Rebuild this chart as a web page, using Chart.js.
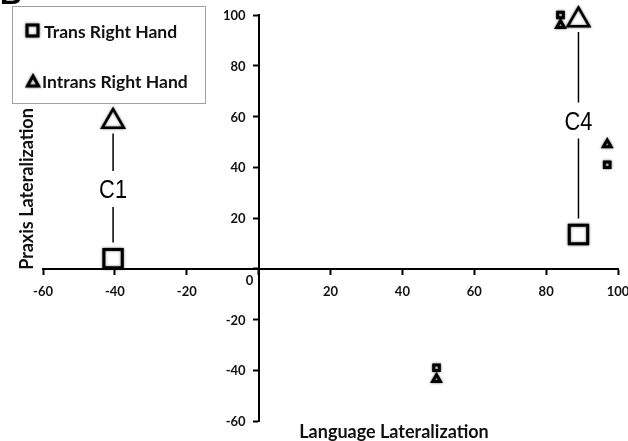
<!DOCTYPE html>
<html>
<head>
<meta charset="utf-8">
<script src="https://cdn.jsdelivr.net/npm/chart.js@4.4.1/dist/chart.umd.min.js"></script>
<style>
  html, body { margin: 0; padding: 0; background: #fff; }
  #wrap { width: 628px; height: 441px; position: relative; }
</style>
</head>
<body>
<div id="wrap"><canvas id="c" width="628" height="441"></canvas></div>
<script>
// Language vs. praxis lateralization, right-handed subjects
const seriesNames = ['Trans Right Hand', 'Intrans Right Hand'];

const transX = [-40.5, 89, 84, 97, 49.5];
const transY = [4, 13.5, 100, 41, -39];
const transSize = [13, 13, 4, 4, 4];

const intransX = [-40.5, 89, 84, 97, 49.5];
const intransY = [58, 98, 96, 49, -43.5];
const intransSize = [12.5, 12.5, 4.5, 4.5, 4.5];

// case labels placed between each case's pair of large markers
const caseLabels = ['C1', 'C4'];
const caseX = [-40.5, 89];
const caseY = [31, 58];
const caseTop = [58, 98];     // triangle (intransitive) value
const caseBottom = [4, 13.5]; // square (transitive) value

const xTicks = [-60, -40, -20, 0, 20, 40, 60, 80, 100];
const yTicks = [-60, -40, -20, 0, 20, 40, 60, 80, 100];

const xTitle = 'Language Lateralization';
const yTitle = 'Praxis Lateralization';

const toPoints = (xs, ys) => xs.map((x, i) => ({ x: x, y: ys[i] }));

const tickFont = { family: 'Lato', size: 13, weight: 'bold' };
const tickFontCss = 'bold 13px Lato';

// soft grey halo around the markers
const markerHalo = {
  id: 'markerHalo',
  beforeDatasetsDraw(chart) {
    const ctx = chart.ctx;
    ctx.save();
    ctx.shadowColor = 'rgba(0,0,0,0.6)';
    ctx.shadowBlur = 2.5;
  },
  afterDatasetsDraw(chart) {
    chart.ctx.restore();
  }
};

// y tick labels (left of the crossing axis), zero label, titles, case labels, legend
const overlay = {
  id: 'overlay',
  afterDraw(chart) {
    const ctx = chart.ctx;
    const xs = chart.scales.x, ys = chart.scales.y;
    const axisX = xs.getPixelForValue(0);
    const axisY = ys.getPixelForValue(0);
    ctx.save();

    // panel letter
    ctx.fillStyle = '#000';
    ctx.font = 'bold 30px "Liberation Sans"';
    ctx.textAlign = 'left';
    ctx.textBaseline = 'alphabetic';
    ctx.fillText('B', 0, 4);

    // y tick labels
    ctx.fillStyle = '#111';
    ctx.font = tickFontCss;
    ctx.textAlign = 'right';
    ctx.textBaseline = 'middle';
    yTicks.forEach(v => {
      if (v === 0) return;
      ctx.fillText(String(v), axisX - 13, ys.getPixelForValue(v) + 1);
    });

    // origin label
    ctx.textAlign = 'center';
    ctx.fillText('0', axisX - 9, axisY + 12);

    // axis titles
    ctx.font = 'bold 18px Lato';
    ctx.fillStyle = '#111';
    ctx.fillText(xTitle, 394, 432);
    ctx.save();
    ctx.translate(27, 189);
    ctx.rotate(-Math.PI / 2);
    ctx.fillText(yTitle, 0, 0);
    ctx.restore();

    // case labels and connectors
    ctx.strokeStyle = '#000';
    ctx.lineWidth = 1.5;
    ctx.fillStyle = '#000';
    caseLabels.forEach((lab, i) => {
      const px = xs.getPixelForValue(caseX[i]);
      const py = ys.getPixelForValue(caseY[i]);
      const topY = ys.getPixelForValue(caseTop[i]) + 12;
      const botY = ys.getPixelForValue(caseBottom[i]) - 16;
      ctx.beginPath();
      ctx.moveTo(px, topY);
      ctx.lineTo(px, py - 19);
      ctx.moveTo(px, py + 17);
      ctx.lineTo(px, botY);
      ctx.stroke();
      ctx.save();
      ctx.translate(px, py + 1);
      ctx.scale(0.84, 1);
      ctx.font = '26px "Liberation Sans"';
      ctx.fillText(lab, 0, 0);
      ctx.restore();
    });

    // legend
    ctx.fillStyle = '#fff';
    ctx.fillRect(12.5, 6.5, 193, 97);
    ctx.strokeStyle = '#a0a0a0';
    ctx.lineWidth = 1;
    ctx.strokeRect(12.5, 6.5, 193, 97);

    ctx.shadowColor = 'rgba(0,0,0,0.6)';
    ctx.shadowBlur = 2.5;
    ctx.fillStyle = '#fff';
    ctx.strokeStyle = '#000';
    ctx.lineWidth = 3;
    // square icon
    ctx.fillRect(27, 25, 11, 11);
    ctx.strokeRect(27, 25, 11, 11);
    // triangle icon
    ctx.beginPath();
    ctx.moveTo(33, 76);
    ctx.lineTo(38.5, 86);
    ctx.lineTo(27.5, 86);
    ctx.closePath();
    ctx.fill();
    ctx.stroke();
    ctx.shadowBlur = 0;
    ctx.shadowColor = 'transparent';

    ctx.fillStyle = '#111';
    ctx.font = 'bold 17.5px Lato';
    ctx.textAlign = 'left';
    ctx.textBaseline = 'middle';
    ctx.fillText(seriesNames[0], 44, 32);
    ctx.fillText(seriesNames[1], 42, 82);

    ctx.restore();
  }
};

new Chart(document.getElementById('c'), {
  type: 'scatter',
  data: {
    datasets: [
      {
        label: seriesNames[0],
        data: toPoints(transX, transY),
        pointStyle: 'rect',
        pointRadius: transSize,
        pointHoverRadius: transSize,
        backgroundColor: '#fff',
        borderColor: '#000',
        pointBorderWidth: 3,
        clip: false
      },
      {
        label: seriesNames[1],
        data: toPoints(intransX, intransY),
        pointStyle: 'triangle',
        pointRadius: intransSize,
        pointHoverRadius: intransSize,
        backgroundColor: '#fff',
        borderColor: '#000',
        pointBorderWidth: [2.5, 2.5, 3, 3, 3],
        clip: false
      }
    ]
  },
  options: {
    responsive: false,
    animation: false,
    events: [],
    layout: { autoPadding: false, padding: { left: 43, right: 10, top: 15, bottom: 20 } },
    plugins: {
      legend: { display: false },
      tooltip: { enabled: false }
    },
    scales: {
      x: {
        type: 'linear',
        position: { y: 0 },
        min: -60, max: 100,
        afterBuildTicks(scale) { scale.ticks = xTicks.map(v => ({ value: v })); },
        afterFit(scale) { scale.paddingLeft = 0; scale.paddingRight = 0; },
        ticks: {
          font: tickFont,
          color: '#111',
          padding: 10,
          maxRotation: 0,
          callback: v => (v === 0 ? '' : String(v))
        },
        grid: {
          drawOnChartArea: false,
          drawTicks: true,
          tickLength: 5,
          tickWidth: 2,
          tickColor: '#000'
        },
        border: { display: true, color: '#000', width: 2 }
      },
      y: {
        type: 'linear',
        position: { x: 0 },
        min: -60, max: 100,
        afterBuildTicks(scale) { scale.ticks = yTicks.map(v => ({ value: v })); },
        ticks: {
          display: false
        },
        grid: {
          drawOnChartArea: false,
          drawTicks: true,
          tickLength: 5,
          tickWidth: 2,
          tickColor: '#000'
        },
        border: { display: true, color: '#000', width: 2 }
      }
    }
  },
  plugins: [markerHalo, overlay]
});
</script>
</body>
</html>
